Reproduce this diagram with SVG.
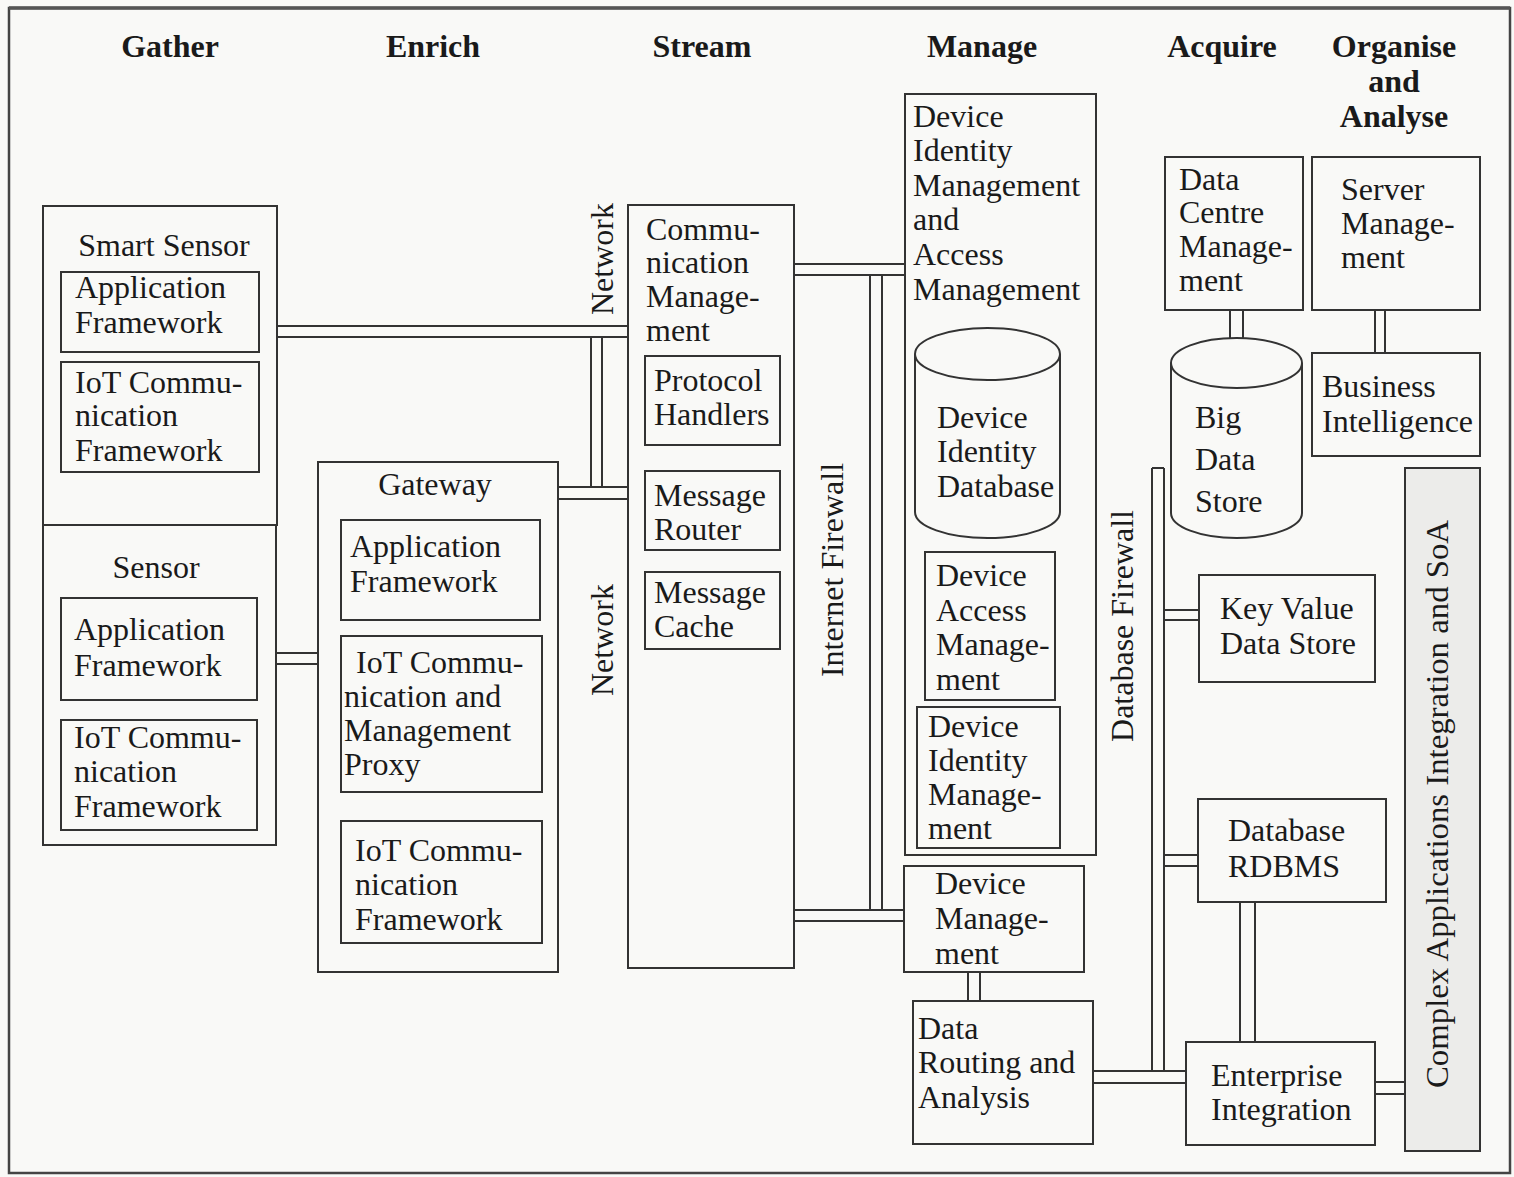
<svg xmlns="http://www.w3.org/2000/svg" width="1514" height="1177" viewBox="0 0 1514 1177">
<style>
.bx{fill:none;stroke:#333;stroke-width:2}
.cn line{stroke:#333;stroke-width:2}
text{font-family:"Liberation Serif","Times New Roman",serif;font-size:32px;fill:#1a1a1a}
.h{font-weight:bold;text-anchor:middle}
.c{text-anchor:middle}
.v{text-anchor:middle}
</style>
<rect x="0" y="0" width="1514" height="1177" fill="#f9f9f7"/>
<rect x="9" y="8" width="1501" height="1165" fill="none" stroke="#444" stroke-width="2.5"/>
<line x1="9" y1="8" x2="1510" y2="8" stroke="#555" stroke-width="3.5"/>

<g id="headers">
<text class="h" x="170" y="57">Gather</text>
<text class="h" x="433" y="57">Enrich</text>
<text class="h" x="702" y="57">Stream</text>
<text class="h" x="982" y="57">Manage</text>
<text class="h" x="1222" y="57">Acquire</text>
<text class="h" x="1394" y="57">Organise</text>
<text class="h" x="1394" y="92">and</text>
<text class="h" x="1394" y="127">Analyse</text>
</g>

<g id="connectors" class="cn">
<line x1="277" y1="326" x2="628" y2="326"/>
<line x1="277" y1="337" x2="628" y2="337"/>
<line x1="591" y1="337" x2="591" y2="487"/>
<line x1="602" y1="337" x2="602" y2="487"/>
<line x1="558" y1="487" x2="628" y2="487"/>
<line x1="558" y1="499" x2="628" y2="499"/>
<line x1="276" y1="653" x2="318" y2="653"/>
<line x1="276" y1="664" x2="318" y2="664"/>
<line x1="794" y1="264" x2="905" y2="264"/>
<line x1="794" y1="275" x2="905" y2="275"/>
<line x1="870" y1="275" x2="870" y2="910"/>
<line x1="882" y1="275" x2="882" y2="910"/>
<line x1="794" y1="910" x2="904" y2="910"/>
<line x1="794" y1="921" x2="904" y2="921"/>
<line x1="968" y1="972" x2="968" y2="1001"/>
<line x1="980" y1="972" x2="980" y2="1001"/>
<line x1="1093" y1="1071" x2="1186" y2="1071"/>
<line x1="1093" y1="1083" x2="1186" y2="1083"/>
<line x1="1152" y1="468" x2="1152" y2="1071"/>
<line x1="1164" y1="468" x2="1164" y2="1071"/>
<line x1="1152" y1="468" x2="1164" y2="468"/>
<line x1="1164" y1="610" x2="1199" y2="610"/>
<line x1="1164" y1="620" x2="1199" y2="620"/>
<line x1="1164" y1="855" x2="1198" y2="855"/>
<line x1="1164" y1="866" x2="1198" y2="866"/>
<line x1="1240" y1="902" x2="1240" y2="1042"/>
<line x1="1255" y1="902" x2="1255" y2="1042"/>
<line x1="1375" y1="1082" x2="1405" y2="1082"/>
<line x1="1375" y1="1094" x2="1405" y2="1094"/>
<line x1="1230" y1="310" x2="1230" y2="339"/>
<line x1="1243" y1="310" x2="1243" y2="339"/>
<line x1="1375" y1="310" x2="1375" y2="353"/>
<line x1="1385" y1="310" x2="1385" y2="353"/>
</g>

<g id="labels">
<text class="v" transform="translate(613,259) rotate(-90)" font-size="31">Network</text>
<text class="v" transform="translate(613,640) rotate(-90)" font-size="31">Network</text>
<text class="v" transform="translate(843,570) rotate(-90)" font-size="33">Internet Firewall</text>
<text class="v" transform="translate(1133,626) rotate(-90)" font-size="32">Database Firewall</text>
</g>

<g id="smart-sensor">
<rect class="bx" x="43" y="206" width="234" height="319"/>
<text class="c" x="164" y="256">Smart Sensor</text>
</g>
<g id="ss-app">
<rect class="bx" x="61" y="272" width="198" height="80"/>
<text x="75" y="298">Application</text>
<text x="75" y="333">Framework</text>
</g>
<g id="ss-iot">
<rect class="bx" x="61" y="362" width="198" height="110"/>
<text x="75" y="393">IoT Commu-</text>
<text x="75" y="426">nication</text>
<text x="75" y="461">Framework</text>
</g>

<g id="sensor">
<rect class="bx" x="43" y="525" width="233" height="320"/>
<text class="c" x="156" y="578">Sensor</text>
</g>
<g id="s-app">
<rect class="bx" x="61" y="598" width="196" height="102"/>
<text x="74" y="640">Application</text>
<text x="74" y="676">Framework</text>
</g>
<g id="s-iot">
<rect class="bx" x="61" y="720" width="196" height="110"/>
<text x="74" y="748">IoT Commu-</text>
<text x="74" y="782">nication</text>
<text x="74" y="817">Framework</text>
</g>

<g id="gateway">
<rect class="bx" x="318" y="462" width="240" height="510"/>
<text class="c" x="435" y="495">Gateway</text>
</g>
<g id="gw-app">
<rect class="bx" x="341" y="520" width="199" height="100"/>
<text x="350" y="557">Application</text>
<text x="350" y="592">Framework</text>
</g>
<g id="gw-proxy">
<rect class="bx" x="341" y="636" width="201" height="156"/>
<text x="356" y="673">IoT Commu-</text>
<text x="344" y="707">nication and</text>
<text x="344" y="741">Management</text>
<text x="344" y="775">Proxy</text>
</g>
<g id="gw-iot">
<rect class="bx" x="341" y="821" width="201" height="122"/>
<text x="355" y="861">IoT Commu-</text>
<text x="355" y="895">nication</text>
<text x="355" y="930">Framework</text>
</g>

<g id="comm-mgmt">
<rect class="bx" x="628" y="205" width="166" height="763"/>
<text x="646" y="240">Commu-</text>
<text x="646" y="273">nication</text>
<text x="646" y="307">Manage-</text>
<text x="646" y="341">ment</text>
</g>
<g id="protocol-handlers">
<rect class="bx" x="645" y="356" width="135" height="89"/>
<text x="654" y="391">Protocol</text>
<text x="654" y="425">Handlers</text>
</g>
<g id="message-router">
<rect class="bx" x="645" y="471" width="135" height="79"/>
<text x="654" y="506">Message</text>
<text x="654" y="540">Router</text>
</g>
<g id="message-cache">
<rect class="bx" x="645" y="572" width="135" height="77"/>
<text x="654" y="603">Message</text>
<text x="654" y="637">Cache</text>
</g>

<g id="identity-access-mgmt">
<rect class="bx" x="905" y="94" width="191" height="761"/>
<text x="913" y="127">Device</text>
<text x="913" y="161">Identity</text>
<text x="913" y="196">Management</text>
<text x="913" y="230">and</text>
<text x="913" y="265">Access</text>
<text x="913" y="300">Management</text>
</g>
<g id="identity-db">
<path class="bx" d="M915,354 L915,512 A72.5,26 0 0 0 1060,512 L1060,354"/>
<ellipse class="bx" cx="987.5" cy="354" rx="72.5" ry="26"/>
<text x="937" y="428">Device</text>
<text x="937" y="462">Identity</text>
<text x="937" y="497">Database</text>
</g>
<g id="device-access-mgmt">
<rect class="bx" x="925" y="552" width="130" height="148"/>
<text x="936" y="586">Device</text>
<text x="936" y="621">Access</text>
<text x="936" y="655">Manage-</text>
<text x="936" y="690">ment</text>
</g>
<g id="device-identity-mgmt">
<rect class="bx" x="917" y="707" width="143" height="141"/>
<text x="928" y="737">Device</text>
<text x="928" y="771">Identity</text>
<text x="928" y="805">Manage-</text>
<text x="928" y="839">ment</text>
</g>
<g id="device-mgmt">
<rect class="bx" x="904" y="866" width="180" height="106"/>
<text x="935" y="894">Device</text>
<text x="935" y="929">Manage-</text>
<text x="935" y="964">ment</text>
</g>
<g id="data-routing">
<rect class="bx" x="913" y="1001" width="180" height="143"/>
<text x="918" y="1039">Data</text>
<text x="918" y="1073">Routing and</text>
<text x="918" y="1108">Analysis</text>
</g>

<g id="data-centre-mgmt">
<rect class="bx" x="1165" y="157" width="138" height="153"/>
<text x="1179" y="190">Data</text>
<text x="1179" y="223">Centre</text>
<text x="1179" y="257">Manage-</text>
<text x="1179" y="291">ment</text>
</g>
<g id="server-mgmt">
<rect class="bx" x="1312" y="157" width="168" height="153"/>
<text x="1341" y="200">Server</text>
<text x="1341" y="234">Manage-</text>
<text x="1341" y="268">ment</text>
</g>
<g id="business-intelligence">
<rect class="bx" x="1312" y="353" width="168" height="103"/>
<text x="1322" y="397">Business</text>
<text x="1322" y="432">Intelligence</text>
</g>
<g id="big-data-store">
<path class="bx" d="M1171,363 L1171,513 A65.5,25 0 0 0 1302,513 L1302,363"/>
<ellipse class="bx" cx="1236.5" cy="363" rx="65.5" ry="25"/>
<text x="1195" y="428">Big</text>
<text x="1195" y="470">Data</text>
<text x="1195" y="512">Store</text>
</g>
<g id="key-value-store">
<rect class="bx" x="1199" y="575" width="176" height="107"/>
<text x="1220" y="619">Key Value</text>
<text x="1220" y="654">Data Store</text>
</g>
<g id="rdbms">
<rect class="bx" x="1198" y="799" width="188" height="103"/>
<text x="1228" y="841">Database</text>
<text x="1228" y="877">RDBMS</text>
</g>
<g id="enterprise-integration">
<rect class="bx" x="1186" y="1042" width="189" height="103"/>
<text x="1211" y="1086">Enterprise</text>
<text x="1211" y="1120">Integration</text>
</g>
<g id="complex-apps">
<rect x="1405" y="468" width="75" height="683" fill="#ececea" stroke="#333" stroke-width="2"/>
<text class="v" transform="translate(1448,804) rotate(-90)" textLength="568" lengthAdjust="spacingAndGlyphs">Complex Applications Integration and SoA</text>
</g>
</svg>
